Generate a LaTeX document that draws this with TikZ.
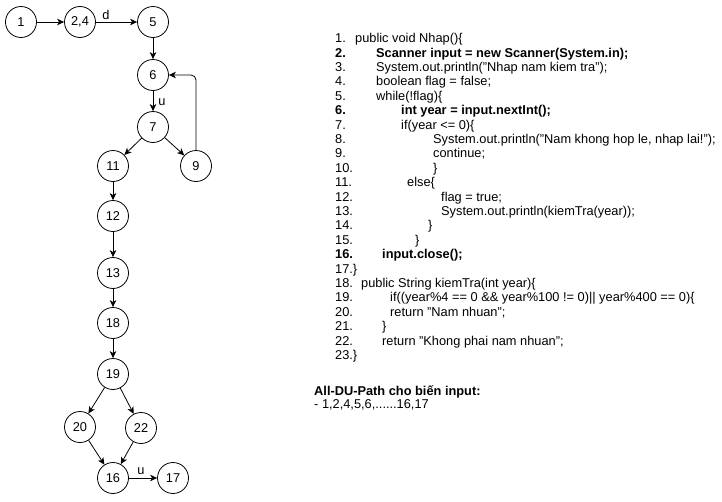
\documentclass[tikz,border=0pt]{standalone}
\usepackage{fontspec}
\setmainfont{Liberation Sans}
\usetikzlibrary{arrows.meta}
\begin{document}
\begin{tikzpicture}[x=1pt,y=-1pt,arrow/.style={>={Stealth[length=7pt,width=6.5pt,inset=2pt]},->,line width=0.8pt},dinh/.style={draw,circle,line width=0.8pt,minimum size=31pt,inner sep=0pt},code/.style={anchor=base west,inner sep=0pt},font=\fontsize{12.8}{14}\selectfont]
\useasboundingbox (0,0) rectangle (722,501);
\foreach \ten/\nhan/\x/\y in {1/1/21/22,24/{2,4}/80/22,5/5/153/22,6/6/153/75,7/7/153/127,11/11/113/166,9/9/196/166,12/12/113/216,13/13/113/273,18/18/113/323,19/19/113/374,20/20/80/427,22/22/141/428,16/16/113/478,17/17/173/478}
\node[dinh] (n\ten) at (\x,\y) {\nhan};
\foreach \a/\b in {1/24,24/5,5/6,6/7,7/11,7/9,11/12,12/13,13/18,18/19,19/20,19/22,20/16,22/16,16/17}
\draw[arrow] (n\a)--(n\b);
\draw[arrow,rounded corners=5pt] (n9.north)|-(n6.east);
\node (d) at (106,15) {d};
\node (u1) at (162,102) {u};
\node (u2) at (141,471) {u};

\foreach \i/\x/\dong/\kieu in {1/355/{public void Nhap()\{}/,2/376/{Scanner input = new Scanner(System.in);}/\bfseries,3/376/{System.out.println("Nhap nam kiem tra");}/,4/376/{boolean flag = false;}/,5/376/{while(!flag)\{}/,6/401/{int year = input.nextInt();}/\bfseries,7/401/{if(year <= 0)\{}/,8/433/{System.out.println("Nam khong hop le, nhap lai!");}/,9/433/{continue;}/,10/433/\}/,11/407/{else\{}/,12/441/{flag = true;}/,13/441/{System.out.println(kiemTra(year));}/,14/428/\}/,15/415/\}/,16/382/{input.close();}/\bfseries,18/361/{public String kiemTra(int year)\{}/,19/390/{if((year\%4 == 0 \&\& year\%100 != 0)|| year\%400 == 0)\{}/,20/390/{return "Nam nhuan";}/,21/382/\}/,22/382/{return "Khong phai nam nhuan";}/}
{\node[code] (so\i) at (335,{28.3+14.4*\i}) {\kieu\i.};
\node[code] (dong\i) at (\x,{28.3+14.4*\i}) {\kieu\dong};}
\node[code] (so17) at (335,{28.3+14.4*17}) {17.\}};
\node[code] (so23) at (335,{28.3+14.4*23}) {23.\}};
\node[code] (tieude) at (314,395) {\bfseries All-DU-Path cho biến input:};
\node[code] (duongdi) at (314,408) {- 1,2,4,5,6,......16,17};
\end{tikzpicture}
\end{document}
